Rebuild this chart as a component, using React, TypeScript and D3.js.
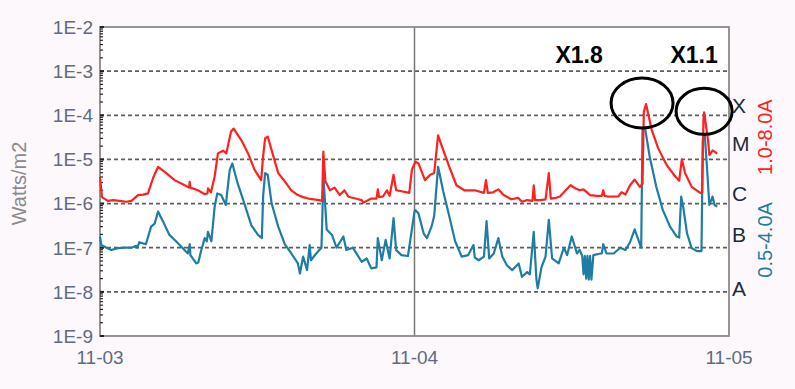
import React from "react";
import * as d3 from "d3";

// hours since 11-03 00:00, flux in W/m2
const longChannel: [number, number][] = [
  [0, 4.0e-6], [0.15, 1.4e-6], [0.6, 1.15e-6], [1.0, 1.2e-6], [1.5, 1.15e-6], [2.0, 1.1e-6],
  [2.4, 1.15e-6], [2.9, 1.55e-6], [3.3, 1.6e-6], [3.66, 1.7e-6], [4.05, 3.8e-6], [4.43, 6.8e-6],
  [4.94, 5.2e-6], [5.7, 3.4e-6], [6.46, 2.6e-6], [6.8, 2.3e-6], [6.84, 3.1e-6], [6.9, 2.3e-6],
  [7.48, 2.0e-6], [7.99, 1.63e-6], [8.2, 1.7e-6], [8.24, 2.2e-6], [8.47, 1.8e-6], [8.75, 4.1e-6],
  [9.0, 1.37e-5], [9.39, 1.58e-5], [9.64, 1.37e-5], [10.0, 4.3e-5], [10.2, 5.0e-5], [10.78, 2.75e-5],
  [11.3, 1.37e-5], [11.8, 5.8e-6], [12.3, 3.4e-6], [12.45, 1.2e-5], [12.6, 3.0e-5], [12.8, 3.3e-5],
  [13.1, 1.6e-5], [13.6, 4.9e-6], [14.1, 3.2e-6], [14.6, 2.0e-6], [15.1, 1.56e-6], [15.5, 1.4e-6],
  [15.9, 1.3e-6], [16.3, 1.25e-6], [16.7, 1.2e-6], [16.95, 1.15e-6], [17.04, 1.5e-5], [17.2, 3.2e-6],
  [17.55, 2.0e-6], [17.9, 2.3e-6], [18.3, 1.56e-6], [18.65, 2.0e-6], [18.95, 1.43e-6], [19.5, 1.3e-6],
  [19.97, 1.2e-6], [20.1, 1.05e-6], [20.7, 1.3e-6], [21.1, 1.3e-6], [21.2, 2.1e-6], [21.3, 1.4e-6],
  [21.6, 1.45e-6], [21.9, 2.0e-6], [22.1, 1.5e-6], [22.4, 4.5e-6], [22.6, 2.0e-6], [23.0, 1.9e-6],
  [23.6, 1.75e-6], [23.8, 5.8e-6], [24.07, 8.9e-6], [24.3, 8.1e-6], [24.8, 3.4e-6], [25.2, 4.5e-6],
  [25.5, 4.9e-6], [25.8, 3.5e-5], [26.2, 1.6e-5], [26.7, 6.3e-6], [27.2, 2.6e-6], [27.8, 2.0e-6],
  [28.6, 2.0e-6], [29.3, 1.75e-6], [29.45, 3.4e-6], [29.6, 1.75e-6], [30.0, 1.8e-6], [30.4, 2.1e-6],
  [30.8, 1.56e-6], [31.4, 1.25e-6], [31.9, 1.35e-6], [32.2, 1.1e-6], [32.6, 1.2e-6], [33.0, 1.15e-6],
  [33.1, 2.6e-6], [33.2, 1.2e-6], [33.6, 1.2e-6], [34.0, 1.25e-6], [34.25, 4.9e-6], [34.4, 1.3e-6],
  [34.8, 1.35e-6], [35.1, 1.45e-6], [35.4, 1.8e-6], [35.9, 2.6e-6], [36.3, 2.2e-6], [36.6, 2.0e-6],
  [36.9, 2.1e-6], [37.4, 1.56e-6], [37.9, 1.5e-6], [38.3, 1.5e-6], [38.4, 2.0e-6], [38.5, 1.5e-6],
  [38.9, 1.43e-6], [39.55, 1.45e-6], [39.8, 1.8e-6], [40.1, 1.6e-6], [40.45, 2.6e-6], [40.8, 3.5e-6],
  [41.2, 2.4e-6], [41.4, 2.8e-6], [41.5, 1.2e-4], [41.67, 1.8e-4], [42.1, 4.7e-5], [42.6, 1.78e-5],
  [43.25, 7.4e-6], [43.9, 4.1e-6], [44.2, 3.3e-6], [44.4, 1.0e-5], [44.65, 4.9e-6], [45.15, 2.4e-6],
  [45.8, 1.75e-6], [45.95, 1.8e-6], [46.05, 8.0e-5], [46.1, 1.17e-4], [46.4, 2.75e-5], [46.5, 1.26e-5],
  [46.75, 1.6e-5], [46.9, 1.5e-5], [47.1, 1.35e-5],
];

const shortChannel: [number, number][] = [
  [0, 1.8e-7], [0.1, 1.15e-7], [0.5, 1.0e-7], [0.86, 8.9e-8], [1.37, 9.8e-8], [1.9, 1.0e-7],
  [2.4, 1.0e-7], [2.77, 1.1e-7], [2.85, 1.0e-7], [3.0, 1.33e-7], [3.5, 1.2e-7], [3.9, 3.0e-7],
  [4.17, 3.5e-7], [4.43, 6.6e-7], [4.8, 4.0e-7], [5.3, 1.95e-7], [5.8, 1.4e-7], [6.3, 9.8e-8],
  [6.7, 7.4e-8], [6.85, 1.2e-7], [6.9, 6.8e-8], [7.35, 4.4e-8], [7.5, 4.6e-8], [7.73, 8.9e-8],
  [7.99, 1.65e-7], [8.15, 1.4e-7], [8.24, 2.3e-7], [8.5, 1.4e-7], [8.75, 8.5e-7], [8.95, 1.7e-6],
  [9.25, 1.56e-6], [9.6, 9.3e-7], [9.9, 5.8e-6], [10.1, 8.1e-6], [10.5, 2.9e-6], [11.05, 9.3e-7],
  [11.55, 3.2e-7], [12.06, 1.95e-7], [12.35, 1.65e-7], [12.45, 1.5e-6], [12.6, 4.9e-6], [12.8, 4.5e-6],
  [13.1, 1.0e-6], [13.6, 3.0e-7], [14.1, 1.2e-7], [14.6, 7.4e-8], [15.1, 4.4e-8], [15.26, 2.6e-8],
  [15.5, 6.3e-8], [15.8, 3.1e-8], [16.0, 1.15e-7], [16.1, 5.2e-8], [16.5, 7.4e-8], [16.9, 1.0e-7],
  [17.05, 4.1e-6], [17.3, 2.6e-7], [17.7, 1.95e-7], [18.05, 1.0e-7], [18.57, 1.8e-7], [18.8, 8.9e-8],
  [19.3, 1.0e-7], [19.97, 4.8e-8], [20.35, 5.7e-8], [20.7, 3.4e-8], [21.1, 3.6e-8], [21.2, 1.65e-7],
  [21.5, 5.2e-8], [21.8, 1.5e-7], [22.1, 5.7e-8], [22.4, 4.7e-7], [22.6, 8.9e-8], [23.0, 6.8e-8],
  [23.5, 6.5e-8], [23.8, 2.6e-7], [24.0, 6.6e-7], [24.07, 7.1e-7], [24.3, 6.0e-7], [24.7, 2.1e-7],
  [24.95, 1.65e-7], [25.3, 3.0e-7], [25.5, 5.2e-7], [25.8, 6.8e-6], [26.2, 1.85e-6], [26.6, 6.0e-7],
  [27.1, 1.4e-7], [27.6, 6.3e-8], [28.1, 6.8e-8], [28.5, 1.15e-7], [28.6, 6.0e-8], [28.9, 5.2e-8],
  [29.3, 6.3e-8], [29.5, 4.0e-7], [29.7, 5.7e-8], [30.05, 7.4e-8], [30.4, 1.65e-7], [30.7, 6.3e-8],
  [31.05, 4.0e-8], [31.45, 3.1e-8], [31.95, 4.4e-8], [32.2, 2.2e-8], [32.6, 2.8e-8], [32.8, 2.5e-8],
  [33.1, 2.3e-7], [33.3, 2.0e-8], [33.4, 1.2e-8], [33.7, 3.7e-8], [34.0, 6.3e-8], [34.25, 4.3e-7],
  [34.5, 5.7e-8], [35.0, 4.4e-8], [35.4, 1.0e-7], [35.65, 6.8e-8], [36.0, 1.8e-7], [36.4, 7.4e-8],
  [36.6, 8.9e-8], [36.8, 6.5e-8], [36.9, 2.5e-8], [37.0, 6.5e-8], [37.1, 2.0e-8], [37.2, 6.5e-8],
  [37.3, 1.9e-8], [37.4, 6.5e-8], [37.5, 1.9e-8], [37.65, 6.8e-8], [38.3, 7.5e-8], [38.4, 1.2e-7],
  [38.65, 7.4e-8], [39.2, 7.4e-8], [39.7, 1.0e-7], [40.1, 8.9e-8], [40.45, 1.33e-7], [40.8, 2.6e-7],
  [41.05, 1.6e-7], [41.3, 1.0e-7], [41.4, 4.7e-5], [41.6, 5.0e-5], [41.95, 1.15e-5], [42.45, 2.4e-6],
  [42.95, 7.1e-7], [43.5, 3.0e-7], [44.0, 1.8e-7], [44.2, 1.7e-7], [44.35, 1.43e-6], [44.5, 8.5e-7],
  [44.8, 2.1e-7], [45.15, 9.8e-8], [45.55, 8.4e-8], [45.9, 8.4e-8], [46.0, 2.75e-5], [46.15, 3.6e-5],
  [46.3, 8.1e-6], [46.5, 9.3e-7], [46.75, 1.43e-6], [46.9, 9.3e-7], [47.1, 8.5e-7],
];

const yTickValues = [1e-2, 1e-3, 1e-4, 1e-5, 1e-6, 1e-7, 1e-8, 1e-9];
const yTickLabels = ["1E-2", "1E-3", "1E-4", "1E-5", "1E-6", "1E-7", "1E-8", "1E-9"];
const gridValues = [1e-3, 1e-4, 1e-5, 1e-6, 1e-7, 1e-8];
const xTickHours = [0, 24, 48];
const xTickLabels = ["11-03", "11-04", "11-05"];
const classLetters = ["X", "M", "C", "B", "A"];
const classLevels = [1e-4, 1e-5, 1e-6, 1e-7, 1e-8];
const classNudge = [-2, -8, -3, -6, 4];
const flareLabels = ["X1.8", "X1.1"];
const flarePeaks: [number, number][] = [[41.67, 1.8e-4], [46.1, 1.17e-4]];

const W = 795;
const H = 389;
const margin = { top: 27, right: 66, bottom: 53, left: 100 };
const font = "'Liberation Sans', Arial, sans-serif";
const RED = "#ff2020";
const BLUE = "#1f7ca3";

export default function App() {
  const x = d3.scaleLinear().domain([0, 48]).range([margin.left, W - margin.right]);
  const y = d3.scaleLog().domain([1e-9, 1e-2]).range([H - margin.bottom, margin.top]);
  const line = d3
    .line<[number, number]>()
    .x((d) => x(d[0]))
    .y((d) => y(d[1]));
  const x0 = x(0);
  const x1 = x(48);
  const minor = y.ticks();

  return (
    <div style={{ position: "fixed", left: 0, top: 0 }}>
      <svg width={W} height={H} style={{ display: "block" }}>
        <rect width={W} height={H} fill="#fdf8fc" />
        <rect x={x0} y={y(1e-2)} width={x1 - x0} height={y(1e-9) - y(1e-2)} fill="#fff" />

        {gridValues.map((v) => (
          <line key={v} x1={x0} x2={x1} y1={y(v)} y2={y(v)} stroke="#5e5e5e" strokeWidth={1.8} strokeDasharray="4 3" />
        ))}
        <line x1={x(24)} x2={x(24)} y1={y(1e-2)} y2={y(1e-9)} stroke="#777" strokeWidth={1.5} />
        <rect x={x0} y={y(1e-2)} width={x1 - x0} height={y(1e-9) - y(1e-2)} fill="none" stroke="#8a8a8a" strokeWidth={1.8} />

        {minor.map((v, i) => {
          const major = Math.abs(Math.log10(v) - Math.round(Math.log10(v))) < 1e-6;
          return (
            <line key={i} x1={x0} x2={x0 + (major ? 4 : 3)} y1={y(v)} y2={y(v)} stroke="#222" strokeWidth={major ? 2 : 1.2} />
          );
        })}

        <path d={line(shortChannel) || ""} fill="none" stroke={BLUE} strokeWidth={2.2} strokeLinejoin="round" />
        <path d={line(longChannel) || ""} fill="none" stroke={RED} strokeWidth={2.2} strokeLinejoin="round" />

        {yTickValues.map((v, i) => (
          <text key={v} x={x0 - 7} y={y(v)} dy="0.36em" textAnchor="end" fontFamily={font} fontSize={19} fill="#5f6b80">
            {yTickLabels[i]}
          </text>
        ))}
        {xTickHours.map((h, i) => (
          <text key={h} x={x(h)} y={H - margin.bottom + 28} textAnchor="middle" fontFamily={font} fontSize={19} fill="#5f6b80">
            {xTickLabels[i]}
          </text>
        ))}

        <text transform={`translate(26,${(y(1e-2) + y(1e-9)) / 2 + 2}) rotate(-90)`} textAnchor="middle" fontFamily={font} fontSize={20} fill="#8a8a8a">
          Watts/m2
        </text>

        {classLetters.map((c, i) => (
          <text key={c} x={x1 + 3} y={y(classLevels[i]) + classNudge[i]} fontFamily={font} fontSize={21} fill="#1e2a3c">
            {c}
          </text>
        ))}

        <text transform={`translate(772,${y(3.2e-5)}) rotate(-90)`} textAnchor="middle" fontFamily={font} fontSize={20} fill={RED}>
          1.0-8.0A
        </text>
        <text transform={`translate(772,${y(1.5e-7)}) rotate(-90)`} textAnchor="middle" fontFamily={font} fontSize={20} fill={BLUE}>
          0.5-4.0A
        </text>

        {flarePeaks.map((p, i) => (
          <g key={i}>
            <ellipse
              cx={x(p[0]) + (i === 0 ? -4 : 0)}
              cy={y(p[1]) - 1}
              rx={i === 0 ? 31 : 28}
              ry={i === 0 ? 25 : 23}
              fill="none"
              stroke="#000"
              strokeWidth={3}
            />
            <text x={x(p[0]) + (i === 0 ? -67 : -10)} y={63} textAnchor="middle" fontFamily={font} fontSize={23} fontWeight="bold" fill="#000">
              {flareLabels[i]}
            </text>
          </g>
        ))}
      </svg>
    </div>
  );
}
